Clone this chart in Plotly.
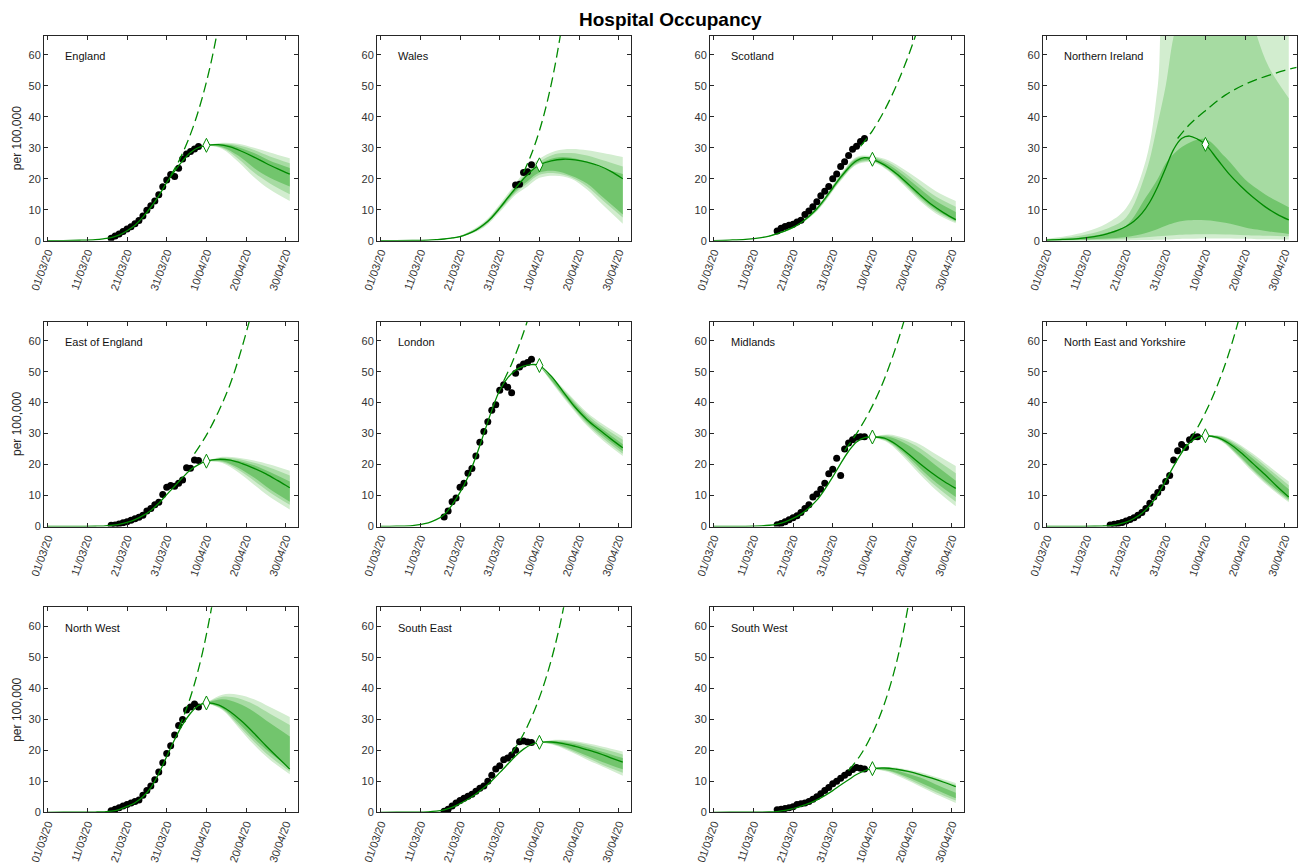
import pandas as pd
import plotly.graph_objects as go

START = pd.Timestamp('2020-03-01')

REGIONS = ['England', 'Wales', 'Scotland', 'Northern Ireland',
           'East of England', 'London', 'Midlands', 'North East and Yorkshire',
           'North West', 'South East', 'South West']

TICK_DAYS = [0, 10, 20, 30, 40, 50, 60]
Y_TICKS = [0, 10, 20, 30, 40, 50, 60]
DIAMOND_DAY = 40

# ---- fitted / projected median (days since 01/03/20) ----
MODEL_DAYS = [0, 4, 8, 12, 14, 16, 18, 20, 22, 24, 26, 28, 30, 32, 34, 36, 38, 40, 43, 46, 49, 52, 55, 58, 61]
MODEL_ENGLAND = [0, 0.05, 0.15, 0.35, 0.6, 1.0, 1.8, 3.2, 5.0, 7.6, 10.8, 14.5, 18.8, 22.5, 25.8, 28.5, 30.1, 30.8, 31.0, 30.3, 28.8, 27.0, 25.0, 23.2, 21.5]
MODEL_WALES = [0, 0.02, 0.08, 0.2, 0.35, 0.55, 0.9, 1.3, 2.2, 3.4, 5.2, 7.5, 10.5, 13.8, 17.0, 20.0, 22.6, 24.5, 25.8, 26.3, 26.1, 25.4, 24.2, 22.4, 20.0]
MODEL_SCOTLAND = [0.05, 0.2, 0.45, 1.0, 1.5, 2.3, 3.2, 4.3, 5.8, 7.8, 10.3, 13.5, 17.0, 20.5, 23.5, 25.8, 26.8, 26.3, 24.5, 21.7, 18.3, 14.8, 11.6, 9.0, 6.8]
MODEL_NI = [0.2, 0.4, 0.7, 1.3, 1.8, 2.5, 3.4, 4.6, 6.3, 8.8, 12.5, 17.5, 23.5, 29.5, 33.0, 33.8, 32.8, 31.1, 26.3, 21.5, 17.5, 14.0, 11.0, 8.6, 6.7]
MODEL_EOE = [0, 0.01, 0.03, 0.08, 0.15, 0.35, 0.7, 1.3, 2.2, 3.5, 5.2, 7.5, 10.3, 13.0, 15.8, 18.3, 20.0, 21.1, 21.7, 21.4, 20.3, 18.8, 17.0, 14.8, 12.5]
MODEL_LONDON = [0, 0.1, 0.3, 1.2, 2.2, 3.8, 7.0, 11.0, 16.0, 22.5, 30.0, 37.5, 44.0, 48.0, 50.5, 51.8, 52.3, 52.0, 48.5, 43.5, 38.5, 34.5, 31.3, 28.3, 25.4]
MODEL_MIDLANDS = [0, 0.02, 0.06, 0.2, 0.4, 0.8, 1.5, 2.6, 4.0, 6.0, 8.5, 12.0, 16.0, 20.3, 24.3, 27.3, 28.7, 28.9, 28.5, 26.5, 23.5, 20.3, 17.3, 14.6, 12.3]
MODEL_NEY = [0, 0.01, 0.03, 0.08, 0.15, 0.3, 0.7, 1.4, 2.6, 4.3, 6.8, 10.3, 14.8, 19.5, 23.8, 27.0, 28.8, 29.3, 28.8, 26.8, 23.8, 20.3, 16.8, 13.0, 9.5]
MODEL_NW = [0, 0.01, 0.03, 0.08, 0.15, 0.35, 0.9, 1.9, 3.1, 5.0, 8.0, 12.5, 18.0, 23.5, 28.3, 32.0, 34.5, 35.3, 34.7, 32.5, 29.3, 25.5, 21.5, 17.7, 14.0]
MODEL_SE = [0, 0.02, 0.05, 0.15, 0.35, 0.8, 1.6, 2.8, 4.2, 5.9, 7.9, 10.2, 12.8, 15.5, 18.2, 20.4, 21.9, 22.6, 22.7, 22.2, 21.3, 20.2, 19.0, 17.6, 16.2]
MODEL_SW = [0, 0.01, 0.02, 0.05, 0.1, 0.25, 0.6, 1.2, 2.0, 2.9, 4.0, 5.4, 7.0, 8.8, 10.5, 12.2, 13.4, 14.1, 14.3, 13.9, 13.2, 12.2, 11.0, 9.7, 8.3]

# ---- observed occupancy (daily, from start day) ----
OBS_START = 16
OBS_START_WALES = 34
OBS_ENGLAND = [0.8, 1.5, 2.2, 3.0, 3.8, 4.5, 5.5, 6.5, 8.0, 9.8, 11.3, 12.8, 14.8, 17.4, 19.6, 21.4, 20.7, 23.4, 26.4, 28.0, 28.8, 29.6, 30.4]
OBS_WALES = [18.0, 18.2, 22.0, 22.3, 24.5]
OBS_SCOTLAND = [3.1, 4.0, 4.6, 5.0, 5.3, 6.0, 6.6, 8.5, 9.6, 11.0, 12.6, 14.5, 16.0, 17.5, 20.0, 21.5, 24.0, 25.5, 27.5, 29.5, 30.5, 32.0, 33.0]
OBS_NI = []
OBS_EOE = [0.4, 0.5, 0.8, 1.2, 1.5, 2.0, 2.5, 3.0, 3.6, 5.0, 5.8, 7.0, 7.8, 10.3, 12.7, 13.2, 13.0, 14.0, 15.0, 19.0, 18.8, 21.5, 21.3]
OBS_LONDON = [3.1, 5.0, 8.0, 9.2, 12.7, 14.0, 17.2, 18.7, 22.8, 27.2, 30.7, 33.8, 37.5, 39.3, 44.0, 45.8, 45.0, 43.2, 49.5, 51.5, 52.5, 53.0, 54.0]
OBS_MIDLANDS = [0.6, 1.0, 1.5, 2.2, 2.8, 3.5, 4.5, 5.8, 7.0, 9.5, 10.5, 12.0, 14.0, 17.0, 18.5, 22.0, 16.5, 25.0, 27.0, 28.0, 28.8, 29.0, 29.0]
OBS_NEY = [0.5, 0.7, 1.0, 1.3, 1.8, 2.3, 2.8, 3.6, 4.5, 5.8, 7.5, 9.5, 11.0, 12.5, 14.5, 16.5, 21.5, 24.5, 26.5, 25.5, 28.0, 29.0, 29.0]
OBS_NW = [0.5, 1.0, 1.5, 2.0, 2.5, 3.0, 3.5, 4.0, 5.5, 7.0, 8.5, 10.5, 13.0, 16.0, 19.0, 21.5, 25.0, 28.0, 30.0, 33.0, 34.0, 35.0, 34.0]
OBS_SE = [0.3, 1.0, 2.0, 3.0, 3.8, 4.5, 5.2, 5.8, 6.8, 7.8, 8.5, 10.0, 12.0, 14.0, 15.0, 17.0, 17.5, 18.5, 20.0, 22.8, 23.0, 22.7, 22.5]
OBS_SW = [0.8, 1.0, 1.2, 1.5, 1.8, 2.5, 2.8, 3.0, 3.5, 4.2, 5.0, 6.0, 7.0, 8.0, 9.2, 10.0, 11.0, 12.0, 12.8, 13.8, 14.5, 14.2, 14.0]

# ---- unmitigated (dashed) projection: days, values ----
DASH_ENGLAND = ([31, 33, 35, 37, 39, 41, 43], [21, 25.6, 31.2, 38, 46.4, 56.6, 69])
DASH_WALES = ([36, 38, 40, 42, 44, 46], [22, 28, 35.5, 45, 57, 72])
DASH_SCOTLAND = ([37, 40, 43, 46, 49, 52], [30.5, 35.5, 42, 50, 59.5, 70.5])
DASH_NI = ([33, 36, 40, 45, 50, 55, 60, 63], [33, 37.5, 42, 47, 50.5, 53, 55, 56])
DASH_EOE = ([37, 40, 43, 46, 49, 52], [23.5, 29.5, 37, 46, 58, 72])
DASH_LONDON = ([31, 33, 35, 37, 39], [47, 52.5, 59, 66.5, 75])
DASH_MIDLANDS = ([33, 36, 39, 42, 45, 48, 51], [24.5, 30, 36.5, 44.5, 54.5, 66.5, 81])
DASH_NEY = ([34, 37, 40, 43, 46, 49], [24, 29.7, 36.8, 45.5, 56.3, 69.5])
DASH_NW = ([33, 35, 37, 39, 41, 43], [27, 33.5, 41.5, 51.5, 64, 79])
DASH_SE = ([33, 36, 39, 42, 45, 48], [19, 25.3, 33.7, 44.8, 59.5, 79])
DASH_SW = ([34, 37, 40, 43, 46, 49, 52], [13.5, 18.5, 25.5, 35, 48, 66.5, 91])

# ---- credible-interval bands: [lower, upper] for outer / mid / inner ----
BAND_DAYS = [40, 44, 48, 52, 56, 61]
BAND_DAYS_WALES = [14, 20, 26, 30, 34, 37, 40, 44, 48, 52, 56, 61]
BAND_DAYS_SCOTLAND = [14, 20, 26, 32, 36, 40, 44, 48, 52, 56, 61]
BAND_DAYS_NI = [0, 5, 10, 15, 20, 25, 28, 30, 32, 35, 40, 45, 50, 53, 56, 61]

ENGLAND_OUTER = [[30.8, 29.6, 25.5, 20.5, 16.5, 12.8], [30.8, 31.6, 31.3, 30.0, 28.5, 26.6]]
ENGLAND_MID = [[30.8, 29.9, 26.5, 22.0, 18.5, 15.0], [30.8, 31.4, 30.8, 29.3, 27.2, 25.0]]
ENGLAND_INNER = [[30.8, 30.2, 27.5, 23.5, 20.3, 17.5], [30.8, 31.2, 30.2, 28.3, 25.8, 23.5]]

WALES_OUTER = [[0.3, 1.1, 4.3, 9.3, 14.8, 17.5, 20.3, 21.0, 20.0, 16.5, 11.5, 5.5], [0.45, 1.6, 6.0, 11.8, 18.5, 23.3, 26.5, 29.0, 29.6, 29.2, 28.3, 27.0]]
WALES_MID = [[0.33, 1.2, 4.6, 9.8, 15.5, 18.5, 21.3, 21.8, 20.5, 17.5, 13.0, 7.5], [0.42, 1.5, 5.7, 11.3, 17.8, 22.3, 25.5, 28.0, 28.3, 27.5, 26.0, 24.0]]
WALES_INNER = [[0.36, 1.25, 4.8, 10.1, 16.0, 19.2, 22.0, 22.5, 21.0, 18.5, 14.0, 8.5], [0.4, 1.4, 5.4, 11.0, 17.3, 21.8, 24.8, 26.8, 26.8, 25.5, 23.5, 21.5]]

SCOTLAND_OUTER = [[1.3, 3.9, 9.5, 19.3, 24.5, 25.3, 22.5, 17.8, 12.8, 8.8, 5.6], [1.7, 4.7, 11.0, 21.5, 27.0, 27.3, 26.0, 23.0, 19.5, 16.0, 12.8]]
SCOTLAND_MID = [[1.35, 4.0, 9.7, 19.6, 24.8, 25.6, 22.8, 18.3, 13.4, 9.4, 6.0], [1.65, 4.6, 10.8, 21.2, 26.7, 27.0, 25.3, 22.0, 18.0, 14.3, 11.0]]
SCOTLAND_INNER = [[1.4, 4.1, 9.9, 19.9, 25.2, 25.9, 23.2, 18.8, 14.0, 10.0, 6.4], [1.6, 4.5, 10.6, 21.0, 26.4, 26.7, 24.6, 21.0, 16.8, 12.8, 9.3]]

NI_OUTER = [[0, 0, 0, 0, 0.1, 0.2, 0.3, 0.4, 0.5, 0.6, 0.7, 0.7, 0.6, 0.5, 0.5, 0.4], [0.6, 1.5, 3.0, 5.5, 10.5, 26, 50, 80, 80, 80, 80, 80, 80, 80, 80, 80]]
NI_MID = [[0.05, 0.1, 0.2, 0.4, 0.7, 1.1, 1.4, 1.6, 1.8, 2.0, 2.1, 2.0, 1.8, 1.7, 1.6, 1.4], [0.4, 1.0, 2.0, 3.8, 7.5, 22, 38, 50, 66, 80, 80, 80, 80, 66, 56, 46]]
NI_INNER = [[0.1, 0.2, 0.4, 0.7, 1.2, 2.5, 3.8, 4.8, 5.7, 6.5, 6.6, 5.8, 4.3, 3.6, 3.0, 2.2], [0.25, 0.6, 1.3, 2.5, 4.8, 14, 20, 25, 28, 31, 32.8, 27, 19.8, 16.8, 14.2, 10.8]]

EOE_OUTER = [[21.1, 20.5, 17.5, 13.5, 9.5, 5.5], [21.1, 22.5, 22.2, 21.3, 20.0, 18.0]]
EOE_MID = [[21.1, 20.8, 18.3, 14.8, 11.0, 7.0], [21.1, 22.2, 21.8, 20.6, 19.0, 16.5]]
EOE_INNER = [[21.1, 21.1, 19.0, 15.8, 12.0, 8.0], [21.1, 21.9, 21.2, 19.8, 17.6, 14.5]]

LONDON_OUTER = [[52, 45.0, 38.5, 32.5, 27.8, 22.8], [52, 47.3, 42.0, 36.8, 33.0, 29.0]]
LONDON_MID = [[52, 45.4, 39.0, 33.1, 28.5, 23.5], [52, 47.0, 41.5, 36.2, 32.2, 28.0]]
LONDON_INNER = [[52, 45.7, 39.5, 33.7, 29.3, 24.3], [52, 46.7, 40.9, 35.4, 31.3, 26.6]]

MIDLANDS_OUTER = [[28.9, 27.0, 22.3, 16.8, 11.8, 6.5], [28.9, 29.7, 28.6, 26.5, 23.3, 19.5]]
MIDLANDS_MID = [[28.9, 27.3, 23.0, 17.8, 13.0, 8.0], [28.9, 29.4, 27.9, 25.3, 21.6, 17.2]]
MIDLANDS_INNER = [[28.9, 27.6, 23.7, 18.8, 14.2, 9.5], [28.9, 29.0, 27.0, 23.7, 19.7, 14.8]]

NEY_OUTER = [[29.3, 27.5, 22.8, 17.5, 12.8, 7.8], [29.3, 29.3, 27.0, 23.5, 19.5, 14.5]]
NEY_MID = [[29.3, 27.7, 23.2, 18.0, 13.3, 8.3], [29.3, 29.1, 26.5, 22.8, 18.6, 13.3]]
NEY_INNER = [[29.3, 27.9, 23.6, 18.5, 13.9, 8.8], [29.3, 28.8, 25.8, 21.9, 17.6, 12.0]]

NW_OUTER = [[35.3, 33.0, 27.5, 21.8, 17.0, 12.3], [35.3, 38.0, 38.0, 36.5, 34.0, 30.8]]
NW_MID = [[35.3, 33.3, 28.2, 22.8, 18.0, 13.2], [35.3, 37.3, 36.8, 34.8, 31.8, 28.2]]
NW_INNER = [[35.3, 33.6, 29.0, 23.8, 19.2, 14.5], [35.3, 36.5, 35.2, 32.5, 28.8, 24.5]]

SE_OUTER = [[22.6, 21.6, 19.5, 17.0, 14.7, 11.8], [22.6, 23.4, 23.2, 22.3, 21.2, 19.6]]
SE_MID = [[22.6, 21.8, 19.9, 17.6, 15.3, 12.8], [22.6, 23.2, 22.8, 21.8, 20.5, 18.7]]
SE_INNER = [[22.6, 22.0, 20.4, 18.3, 16.2, 13.9], [22.6, 22.9, 22.3, 21.0, 19.5, 17.5]]

SW_OUTER = [[14.1, 13.0, 10.8, 8.3, 5.8, 3.0], [14.1, 14.6, 14.0, 12.9, 11.4, 9.5]]
SW_MID = [[14.1, 13.3, 11.3, 8.9, 6.5, 3.8], [14.1, 14.4, 13.7, 12.5, 10.9, 8.9]]
SW_INNER = [[14.1, 13.5, 11.8, 9.6, 7.3, 4.5], [14.1, 14.0, 12.8, 11.2, 9.0, 6.3]]

# ---- assemble per panel ----
PANELS = [
    (MODEL_ENGLAND, OBS_ENGLAND, OBS_START, DASH_ENGLAND, BAND_DAYS, ENGLAND_OUTER, ENGLAND_MID, ENGLAND_INNER),
    (MODEL_WALES, OBS_WALES, OBS_START_WALES, DASH_WALES, BAND_DAYS_WALES, WALES_OUTER, WALES_MID, WALES_INNER),
    (MODEL_SCOTLAND, OBS_SCOTLAND, OBS_START, DASH_SCOTLAND, BAND_DAYS_SCOTLAND, SCOTLAND_OUTER, SCOTLAND_MID, SCOTLAND_INNER),
    (MODEL_NI, OBS_NI, OBS_START, DASH_NI, BAND_DAYS_NI, NI_OUTER, NI_MID, NI_INNER),
    (MODEL_EOE, OBS_EOE, OBS_START, DASH_EOE, BAND_DAYS, EOE_OUTER, EOE_MID, EOE_INNER),
    (MODEL_LONDON, OBS_LONDON, OBS_START, DASH_LONDON, BAND_DAYS, LONDON_OUTER, LONDON_MID, LONDON_INNER),
    (MODEL_MIDLANDS, OBS_MIDLANDS, OBS_START, DASH_MIDLANDS, BAND_DAYS, MIDLANDS_OUTER, MIDLANDS_MID, MIDLANDS_INNER),
    (MODEL_NEY, OBS_NEY, OBS_START, DASH_NEY, BAND_DAYS, NEY_OUTER, NEY_MID, NEY_INNER),
    (MODEL_NW, OBS_NW, OBS_START, DASH_NW, BAND_DAYS, NW_OUTER, NW_MID, NW_INNER),
    (MODEL_SE, OBS_SE, OBS_START, DASH_SE, BAND_DAYS, SE_OUTER, SE_MID, SE_INNER),
    (MODEL_SW, OBS_SW, OBS_START, DASH_SW, BAND_DAYS, SW_OUTER, SW_MID, SW_INNER),
]

BAND_COLORS = ['#d2edcf', '#a6dba2', '#72c56d']
LINE_COLOR = '#008a00'
FONT = 'Liberation Sans, Arial, Helvetica, sans-serif'

W, H = 1304, 867
LEFT0, COLSTEP, PW = 44.0, 333.0, 253.7
TOP0, ROWSTEP, PH = 35.7, 285.8, 205.0


def dates(days):
    return [START + pd.Timedelta(days=d) for d in days]


fig = go.Figure()
layout = dict(template='none', width=W, height=H, autosize=False,
              margin=dict(l=0, r=0, t=0, b=0, pad=0),
              plot_bgcolor='white', paper_bgcolor='white', showlegend=False,
              font=dict(family=FONT, color='#262626'))
annotations = []

x_range = [START - pd.Timedelta(hours=22), START + pd.Timedelta(days=63)]
tick_dates = dates(TICK_DAYS)
tick_text = [d.strftime('%d/%m/%y') for d in tick_dates]

for i, (name, panel) in enumerate(zip(REGIONS, PANELS)):
    model, obs, obs_start, dash, bdays, outer, mid, inner = panel
    r, c = divmod(i, 4)
    sfx = '' if i == 0 else str(i + 1)
    xa, ya = 'x' + sfx, 'y' + sfx
    x0 = (LEFT0 + COLSTEP * c) / W
    x1 = (LEFT0 + COLSTEP * c + PW) / W
    ytop = TOP0 + ROWSTEP * r
    y1 = 1 - ytop / H
    y0 = 1 - (ytop + PH) / H
    axis_common = dict(showline=True, linecolor='#262626', linewidth=1, mirror='allticks',
                       ticks='inside', ticklen=4, tickcolor='#262626', showgrid=False,
                       zeroline=False, automargin=False,
                       tickfont=dict(size=11, family=FONT, color='#333333'))
    layout['xaxis' + sfx] = dict(axis_common, domain=[x0, x1], anchor=ya, type='date',
                                 range=x_range, tickvals=tick_dates, ticktext=tick_text,
                                 tickangle=-70)
    layout['yaxis' + sfx] = dict(axis_common, domain=[y0, y1], anchor=xa, range=[0, 66.2],
                                 tickvals=Y_TICKS)

    shape = 'spline'
    bx = dates(bdays)
    for (lo, hi), col in zip([outer, mid, inner], BAND_COLORS):
        fig.add_trace(go.Scatter(x=bx, y=lo, mode='lines', line=dict(width=0, shape=shape),
                                 xaxis=xa, yaxis=ya, hoverinfo='skip'))
        fig.add_trace(go.Scatter(x=bx, y=hi, mode='lines', line=dict(width=0, shape=shape),
                                 fill='tonexty', fillcolor=col, xaxis=xa, yaxis=ya, hoverinfo='skip'))

    if obs:
        fig.add_trace(go.Scatter(x=dates(range(obs_start, obs_start + len(obs))), y=obs,
                                 mode='markers', marker=dict(color='black', size=7),
                                 xaxis=xa, yaxis=ya))

    fig.add_trace(go.Scatter(x=dates(dash[0]), y=dash[1], mode='lines',
                             line=dict(color=LINE_COLOR, width=1.3, dash='10px,5px', shape='spline'),
                             xaxis=xa, yaxis=ya))
    fig.add_trace(go.Scatter(x=dates(MODEL_DAYS), y=model, mode='lines',
                             line=dict(color=LINE_COLOR, width=1.3, shape='spline'),
                             xaxis=xa, yaxis=ya))
    di = MODEL_DAYS.index(DIAMOND_DAY)
    fig.add_trace(go.Scatter(x=dates([DIAMOND_DAY]), y=[model[di]], mode='markers',
                             marker=dict(symbol='diamond-tall', size=10, color='white',
                                         line=dict(color=LINE_COLOR, width=1)),
                             xaxis=xa, yaxis=ya))

    annotations.append(dict(text=name, xref=xa + ' domain', yref=ya + ' domain',
                            x=0.075, y=0.9, xanchor='left', yanchor='middle', showarrow=False,
                            font=dict(size=11, family=FONT, color='#111111')))
    if c == 0:
        annotations.append(dict(text='per 100,000', xref='paper', yref='paper',
                                x=17 / W, y=(y0 + y1) / 2, xanchor='center', yanchor='middle',
                                textangle=-90, showarrow=False,
                                font=dict(size=12, family=FONT, color='#262626')))

annotations.append(dict(text='<b>Hospital Occupancy</b>', xref='paper', yref='paper',
                        x=670 / W, y=1 - 19 / H, xanchor='center', yanchor='middle',
                        showarrow=False, font=dict(size=19, family=FONT, color='black')))
layout['annotations'] = annotations
fig.update_layout(**layout)
fig.write_html('out.html', config={'displayModeBar': False},
               post_script="document.body.style.margin='0px';")
